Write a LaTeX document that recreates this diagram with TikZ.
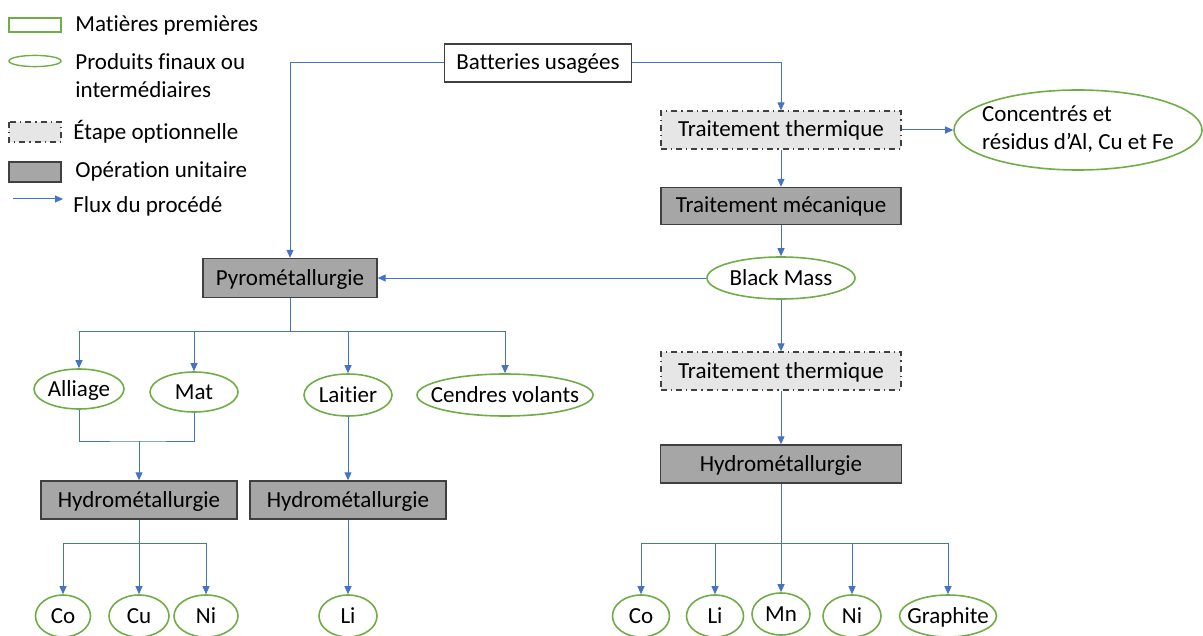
\documentclass[tikz,border=0pt]{standalone}
\usepackage{fontspec}
\setmainfont[Ligatures=NoCommon]{Carlito}
\usetikzlibrary{arrows.meta,shapes.geometric}
\definecolor{prodgreen}{RGB}{112,173,71}
\definecolor{fluxblue}{RGB}{68,114,196}
\definecolor{opgray}{RGB}{166,166,166}
\definecolor{optgray}{RGB}{231,230,230}
\definecolor{edgegray}{RGB}{64,64,64}

\begin{document}
\begin{tikzpicture}[x=0.5pt,y=-0.5pt]
\tikzset{every node/.style={font=\fontsize{11.5pt}{14pt}\selectfont, inner sep=0pt, text height=8.5pt, text depth=1.5pt},
  rawbox/.style={draw=edgegray, line width=0.7pt, fill=white, minimum height=19pt},
  unitbox/.style={draw=edgegray, line width=0.7pt, fill=opgray, minimum height=19pt},
  optbox/.style={draw=edgegray, line width=0.6pt, dash dot, fill=optgray, minimum height=19pt},
  product/.style={ellipse, draw=prodgreen, line width=0.8pt, fill=white, minimum height=21pt,
    execute at begin node={\hbox to 0pt\bgroup\hss}, execute at end node={\hss\egroup}},
  flux/.style={fluxblue, line width=0.5pt, -{Triangle[length=4pt,width=3.5pt]}},
  link/.style={fluxblue, line width=0.5pt},
  legend/.style={anchor=west, align=left, text height=, text depth=}}
\useasboundingbox (0,0) rectangle (1203,636);

% legend
\draw[prodgreen, line width=0.7pt] (9,18) rectangle (61,32);
\node[legend] (lraw) at (75,25) {Matières premières};
\draw[prodgreen, line width=0.7pt] (35,61) ellipse [x radius=13pt, y radius=2.8pt];
\node[legend] (lprod) at (75,76) {Produits finaux ou\\intermédiaires};
\draw[edgegray, line width=0.6pt, dash dot, fill=optgray] (9,122) rectangle (61,142);
\node[legend] (lopt) at (73,132) {Étape optionnelle};
\draw[edgegray, line width=0.7pt, fill=opgray] (9,162) rectangle (61,182);
\node[legend] (lunit) at (75,171) {Opération unitaire};
\draw[flux] (13,199) -- (63,199);
\node[legend] (lflux) at (73,206) {Flux du procédé};

% right branch
\node[rawbox, minimum width=93.5pt] (bat) at (538,63) {Batteries usagées};
\node[optbox, minimum width=120pt] (tt1) at (781,130) {Traitement thermique};
\node[product, minimum width=124pt, minimum height=40pt, text height=, text depth=] (conc) at (1078,130)
  {\begin{tabular}{@{}l@{}}Concentrés et\\résidus d'Al, Cu et Fe\end{tabular}};
\node[unitbox, minimum width=120pt, minimum height=18.5pt] (meca) at (781,206) {Traitement mécanique};
\node[product, minimum width=74pt] (bm) at (781,278) {Black Mass};
\node[optbox, minimum width=120pt] (tt2) at (781,371) {Traitement thermique};
\node[unitbox, minimum width=120.5pt] (hy3) at (781,464) {Hydrométallurgie};
\node[product, minimum width=28.5pt] (co2) at (641,616) {Co};
\node[product, minimum width=28.5pt] (li2) at (715,616) {Li};
\node[product, minimum width=29pt] (mn2) at (781,614) {Mn};
\node[product, minimum width=29pt] (ni2) at (852,616) {Ni};
\node[product, minimum width=48.5pt] (gr2) at (948,616) {Graphite};

% left branch
\node[unitbox, minimum width=87pt, minimum height=19.5pt] (pyro) at (290,278) {Pyrométallurgie};
\node[product, minimum width=45pt, minimum height=20pt] (all) at (79,389) {Alliage};
\node[product, minimum width=44pt, minimum height=20pt] (mat) at (194,392) {Mat};
\node[product, minimum width=44pt] (lai) at (348,395) {Laitier};
\node[product, minimum width=88pt] (cen) at (505,395) {Cendres volants};
\node[unitbox, minimum width=98pt] (hy1) at (139,500) {Hydrométallurgie};
\node[unitbox, minimum width=98pt] (hy2) at (348,500) {Hydrométallurgie};
\node[product, minimum width=27.5pt] (co1) at (63,616) {Co};
\node[product, minimum width=30pt] (cu1) at (139,616) {Cu};
\node[product, minimum width=32pt] (ni1) at (206,616) {Ni};
\node[product, minimum width=29pt] (li1) at (348,616) {Li};

\coordinate (bus1) at (290,331);
\coordinate (join) at (139,441);
\coordinate (bus2) at (139,543);
\coordinate (bus3) at (781,543);

\draw[flux] (bat.west) -| (pyro.north);
\draw[flux] (bat.east) -| (tt1.north);
\draw[flux] (tt1.east) -- (conc.west);
\draw[flux] (tt1.south) -- (meca.north);
\draw[flux] (meca.south) -- (bm.north);
\draw[flux] (bm.west) -- (pyro.east);
\draw[flux] (bm.south) -- (tt2.north);
\draw[flux] (tt2.south) -- (hy3.north);
\draw[flux] (hy3.south) -- (mn2.north);
\draw[flux] (bus3) -| (co2.north);
\draw[flux] (bus3) -| (li2.north);
\draw[flux] (bus3) -| (ni2.north);
\draw[flux] (bus3) -| (gr2.north);

\draw[flux] (pyro.south) -- (bus1) -| (all.north);
\draw[flux] (bus1) -| (mat.north);
\draw[flux] (bus1) -| (lai.north);
\draw[flux] (bus1) -| (cen.north);
\draw[link] (all.south) |- (join) -| (mat.south);
\draw[flux] (join) -- (hy1.north);
\draw[flux] (lai.south) -- (hy2.north);
\draw[flux] (hy1.south) -- (cu1.north);
\draw[flux] (bus2) -| (co1.north);
\draw[flux] (bus2) -| (ni1.north);
\draw[flux] (hy2.south) -- (li1.north);
\end{tikzpicture}
\end{document}
